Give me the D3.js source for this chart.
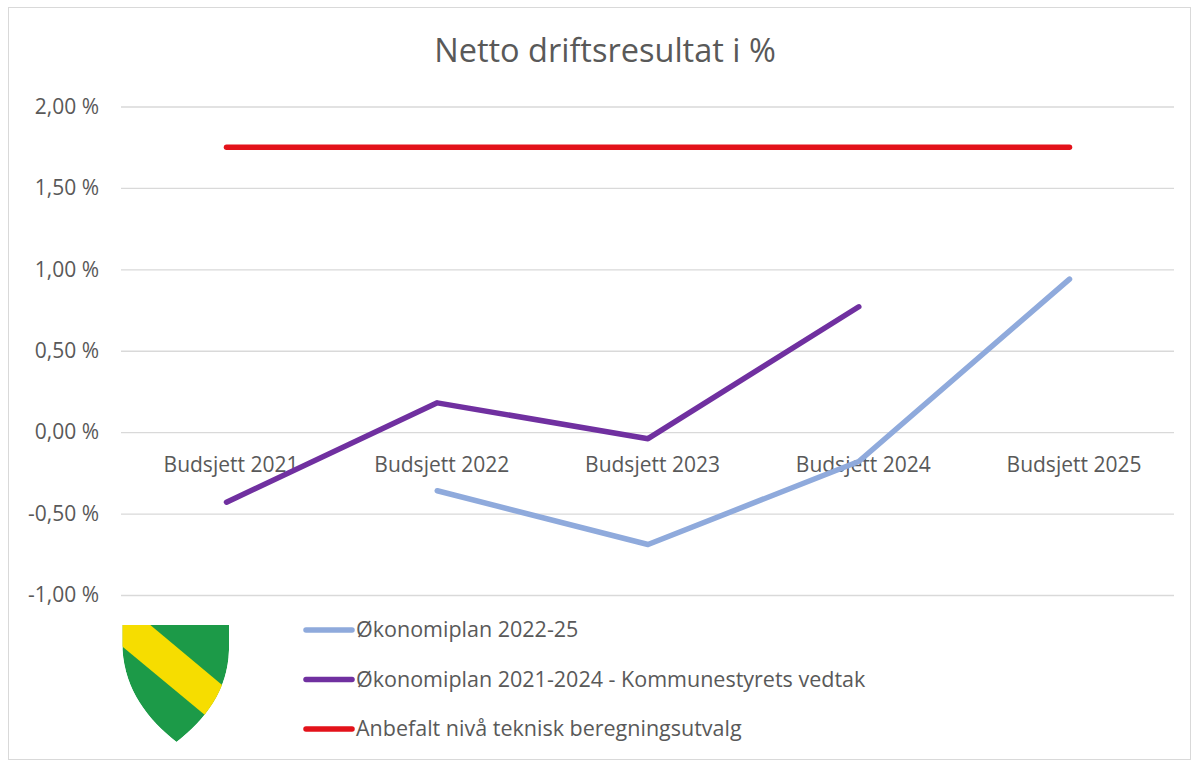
<!DOCTYPE html>
<html><head><meta charset="utf-8">
<script src="https://cdn.jsdelivr.net/npm/d3@7"></script>
<style>body{margin:0;background:#fff}svg{display:block}text{font-family:"Open Sans",sans-serif}</style>
</head><body><svg id="c" width="1197" height="766"></svg>
<script>
const categories = ["Budsjett 2021","Budsjett 2022","Budsjett 2023","Budsjett 2024","Budsjett 2025"];
const plan2022 = [null, -0.36, -0.69, -0.18, 0.94];
const plan2021 = [-0.43, 0.18, -0.04, 0.77, null];
const anbefalt = [1.75, 1.75, 1.75, 1.75, 1.75];
const yTicks = [-1.0, -0.5, 0, 0.5, 1.0, 1.5, 2.0];
const seriesNames = ["Økonomiplan 2022-25","Økonomiplan 2021-2024 - Kommunestyrets vedtak","Anbefalt nivå teknisk beregningsutvalg"];
const seriesColors = ["#8faadc","#7030a0","#e3121a"];
const title = "Netto driftsresultat i %";

const svg = d3.select("#c");
svg.append("rect").attr("x",8.5).attr("y",7.5).attr("width",1182).attr("height",752)
  .attr("fill","#fff").attr("stroke","#d9d9d9");

const x = d3.scalePoint().domain(categories).range([226.5, 1069.5]);
const y = d3.scaleLinear().domain([-1, 2]).range([595, 106.5]);

svg.append("text").attr("x",605).attr("y",62).attr("text-anchor","middle")
  .attr("font-size",32.5).attr("fill","#595959").text(title);

const fmt = v => d3.format(".2f")(v).replace(".", ",").replace("−", "-") + " %";
const yAxis = d3.axisLeft(y).tickValues(yTicks).tickSize(-(1174-121)).tickFormat(fmt).tickPadding(22);
const gy = svg.append("g").attr("transform","translate(121,0)").call(yAxis);
gy.select(".domain").remove();
gy.selectAll(".tick line").attr("stroke","#d9d9d9").attr("stroke-width",1.3);
gy.selectAll(".tick text").attr("font-size",21).attr("fill","#595959").attr("x",-22);

const xAxis = d3.axisBottom(x).tickSize(0).tickPadding(0);
const gx = svg.append("g").attr("transform",`translate(0,${y(0)})`).call(xAxis);
gx.select(".domain").remove();
gx.selectAll(".tick text").attr("font-size",21).attr("fill","#595959").attr("dy",0).attr("y",40).attr("dx",4);

const line = d3.line().defined(d => d != null).x((d,i) => x(categories[i])).y(d => y(d));
[plan2022, plan2021, anbefalt].forEach((s,i) => {
  svg.append("path").datum(s).attr("d", line).attr("fill","none")
    .attr("stroke", seriesColors[i]).attr("stroke-width",5.5)
    .attr("stroke-linejoin","round").attr("stroke-linecap","round");
});

const lg = svg.append("g");
seriesNames.forEach((n,i) => {
  const yy = 630 + i*49.5;
  lg.append("line").attr("x1",306).attr("x2",352).attr("y1",yy).attr("y2",yy)
    .attr("stroke",seriesColors[i]).attr("stroke-width",5.5).attr("stroke-linecap","round");
  lg.append("text").attr("x",356).attr("y",yy+7).attr("font-size",21.5).attr("fill","#595959").text(n);
});

const shieldPath = "M122.5,625 L229,625 L229,650 C228,690 205,720 176.5,742 C148,720 125,690 122.5,650 Z";
const defs = svg.append("defs");
defs.append("clipPath").attr("id","sh").append("path").attr("d",shieldPath);
const sg = svg.append("g").attr("clip-path","url(#sh)");
sg.append("path").attr("d",shieldPath).attr("fill","#1c9a48");
sg.append("path").attr("d","M118,598 L240,700 L240,744 L118,643 Z").attr("fill","#f6dd00");
</script></body></html>
